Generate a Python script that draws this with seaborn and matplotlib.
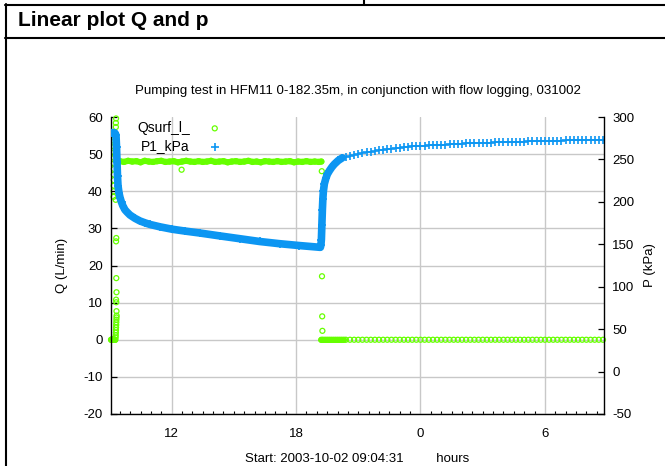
import matplotlib
matplotlib.use("Agg")
import matplotlib.pyplot as plt
from matplotlib.lines import Line2D
from matplotlib.ticker import FixedLocator, MultipleLocator
import seaborn as sns

# ---------------- data (time in hours of day, 24 = midnight) ----------------
# P1_kPa during pumping (dense logging)
p_time_pump = [9.077, 9.125, 9.173, 9.221, 9.269, 9.317, 9.341, 9.365, 9.389, 9.413,
               9.462, 9.510, 9.582, 9.654, 9.750, 9.846, 9.990, 10.231, 10.471, 10.712,
               10.952, 11.433, 12.010, 12.635, 13.356, 14.317, 15.279, 16.240, 17.202,
               18.163, 19.173]
p_kpa_pump = [281.6, 281.6, 281.6, 281.4, 281.0, 278.5, 265.0, 247.5, 230.0, 219.1,
              210.3, 205.1, 199.4, 195.0, 190.6, 188.0, 184.5, 180.6, 177.5, 175.3,
              173.4, 170.6, 167.8, 165.6, 163.3, 159.9, 156.6, 153.3, 150.7,
              148.5, 146.4]
# P1_kPa early recovery (dense logging)
p_time_rec = [19.197, 19.221, 19.245, 19.269, 19.293, 19.317, 19.365, 19.438, 19.510,
              19.606, 19.726, 19.846, 20.038, 20.231]
p_kpa_rec = [148.9, 155.6, 173.1, 190.6, 203.8, 212.5, 221.3, 227.8, 232.6,
             236.6, 240.9, 244.4, 248.8, 251.9]
# late recovery (sparser logging, shared by P1 and Q)
t_late = [20.4, 20.6, 20.8, 21.0, 21.2, 21.4, 21.6, 21.8, 22.0, 22.2, 22.4, 22.6, 22.8,
          23.0, 23.2, 23.4, 23.6, 23.8, 24.0, 24.2, 24.4, 24.6, 24.8, 25.0, 25.2, 25.4,
          25.6, 25.8, 26.0, 26.2, 26.4, 26.6, 26.8, 27.0, 27.2, 27.4, 27.6, 27.8, 28.0,
          28.2, 28.4, 28.6, 28.8, 29.0, 29.2, 29.4, 29.6, 29.8, 30.0, 30.2, 30.4, 30.6,
          30.8, 31.0, 31.2, 31.4, 31.6, 31.8, 32.0, 32.2, 32.4, 32.6, 32.8]
p_kpa_late = [253.1, 254.6, 255.8, 256.9, 257.8, 258.7, 259.3, 260.0, 260.6, 261.3,
              261.9, 262.5, 263.1, 263.7, 264.3, 264.9, 265.3, 265.7, 266.0, 266.3,
              266.5, 266.7, 266.9, 267.2, 267.5, 267.8, 268.1, 268.4, 268.6, 268.8,
              269.0, 269.2, 269.4, 269.6, 269.8, 269.9, 270.1, 270.3, 270.4, 270.5,
              270.6, 270.7, 270.8, 271.0, 271.2, 271.3, 271.5, 271.6, 271.8, 271.9,
              272.1, 272.2, 272.3, 272.4, 272.5, 272.6, 272.7, 272.8, 272.9, 273.0,
              273.1, 273.2, 273.3]
q_flow_late = [0.0, 0.0, 0.0, 0.0, 0.0, 0.0, 0.0, 0.0, 0.0, 0.0, 0.0, 0.0, 0.0,
               0.0, 0.0, 0.0, 0.0, 0.0, 0.0, 0.0, 0.0, 0.0, 0.0, 0.0, 0.0, 0.0,
               0.0, 0.0, 0.0, 0.0, 0.0, 0.0, 0.0, 0.0, 0.0, 0.0, 0.0, 0.0, 0.0,
               0.0, 0.0, 0.0, 0.0, 0.0, 0.0, 0.0, 0.0, 0.0, 0.0, 0.0, 0.0, 0.0,
               0.0, 0.0, 0.0, 0.0, 0.0, 0.0, 0.0, 0.0, 0.0, 0.0, 0.0]

# Qsurf_l_ at pump start (noisy readings)
q_time_start = [9.077, 9.090, 9.105, 9.120, 9.135, 9.150, 9.165, 9.180, 9.195, 9.210,
                9.225, 9.240, 9.255, 9.270, 9.285,
                9.300, 9.305, 9.310, 9.315, 9.320, 9.325, 9.330, 9.335, 9.340, 9.345,
                9.34, 9.33, 9.32, 9.34, 9.33, 9.32, 9.33, 9.30,
                9.200, 9.203, 9.206, 9.209, 9.212, 9.215, 9.218, 9.221, 9.224, 9.227,
                9.230, 9.233, 9.31, 9.31, 9.32]
q_flow_start = [0.0, 0.0, 0.0, 0.0, 0.0, 0.0, 0.0, 0.0, 0.0, 0.0,
                0.0, 0.0, 0.0, 0.0, 0.0,
                0.6, 1.2, 1.9, 2.6, 3.3, 4.0, 4.7, 5.4, 6.0, 6.5,
                7.7, 10.1, 10.8, 12.8, 16.6, 26.5, 27.4, 37.7,
                38.5, 40.0, 41.5, 43.0, 44.5, 46.0, 47.5, 49.0, 50.5, 52.0,
                53.5, 55.0, 57.3, 58.4, 59.6]
# Qsurf_l_ steady pumping
q_time_plateau = [9.38, 9.5, 9.7, 9.9, 10.1, 10.3, 10.5, 10.7, 10.9, 11.1, 11.3, 11.5,
                  11.7, 11.9, 12.1, 12.3, 12.5, 12.7, 12.9, 13.1, 13.3, 13.5, 13.7,
                  13.9, 14.1, 14.3, 14.5, 14.7, 14.9, 15.1, 15.3, 15.5, 15.7, 15.9,
                  16.1, 16.3, 16.5, 16.7, 16.9, 17.1, 17.3, 17.5, 17.7, 17.9, 18.1,
                  18.3, 18.5, 18.7, 18.9, 19.1, 19.22]
q_flow_plateau = [48.3, 48.1, 47.9, 48.2, 48.0, 48.1, 47.8, 48.2, 48.0, 47.9, 48.1, 48.2,
                  47.9, 48.0, 48.1, 47.8, 48.0, 48.2, 48.0, 47.9, 48.1, 47.9, 48.0,
                  48.2, 47.9, 48.0, 48.1, 47.8, 48.0, 48.1, 47.9, 48.0, 48.2, 47.9,
                  48.0, 47.8, 48.1, 48.0, 47.9, 48.1, 47.9, 48.0, 48.1, 47.8, 48.0,
                  47.9, 48.1, 47.9, 48.0, 47.9, 48.0]
# isolated readings (spike during pumping and the stop transient)
q_time_spike = [12.48, 19.24, 19.25, 19.26, 19.27]
q_flow_spike = [45.8, 45.4, 17.1, 6.3, 2.4]
# Qsurf_l_ just after stop (dense logging)
q_time_stop = [19.22, 19.3, 19.4, 19.5, 19.6, 19.7, 19.8, 19.9, 20.0, 20.1, 20.2, 20.3]
q_flow_stop = [0.0, 0.0, 0.0, 0.0, 0.0, 0.0, 0.0, 0.0, 0.0, 0.0, 0.0, 0.0]

x_ticks = [12, 18, 24, 30]
x_tick_labels = ["12", "18", "0", "6"]
q_ticks = [-20, -10, 0, 10, 20, 30, 40, 50, 60]
p_ticks = [-50, 0, 50, 100, 150, 200, 250, 300]

title = "Pumping test in HFM11 0-182.35m, in conjunction with flow logging, 031002"
header = "Linear plot Q and p"

# ---------------- styling ----------------
sns.set_theme(style="white")
plt.rcParams["font.family"] = ["Liberation Sans", "DejaVu Sans"]
plt.rcParams["axes.edgecolor"] = "black"
plt.rcParams["text.color"] = "black"
plt.rcParams["axes.labelcolor"] = "black"
plt.rcParams["xtick.color"] = "black"
plt.rcParams["ytick.color"] = "black"

GREEN = "#66ff00"
BLUE = "#0c96f2"
FS = 9.5

W, H = 665, 466
fig = plt.figure(figsize=(W / 100, H / 100), dpi=100)
fig.patch.set_facecolor("white")


def fx(x):
    return x / W


def fy(y):
    return 1 - y / H


ax = fig.add_axes([fx(111), fy(414), fx(604) - fx(111), fy(117) - fy(414)])
ax2 = ax.twinx()

# ---- Q (left axis) ----
sns.lineplot(x=q_time_plateau, y=q_flow_plateau, ax=ax, color=GREEN, lw=4.4,
             estimator=None, sort=False, legend=False)
sns.lineplot(x=q_time_stop, y=q_flow_stop, ax=ax, color=GREEN, lw=4.2,
             estimator=None, sort=False, legend=False)
q_t_all = q_time_start + q_time_plateau + q_time_spike + q_time_stop + t_late
q_v_all = q_flow_start + q_flow_plateau + q_flow_spike + q_flow_stop + q_flow_late
sns.scatterplot(x=q_t_all, y=q_v_all, ax=ax, marker="o", s=13, facecolor="none",
                edgecolor=GREEN, linewidth=0.9, label="Qsurf_l_", clip_on=False)

# ---- P (right axis) ----
sns.lineplot(x=p_time_pump + p_time_rec, y=p_kpa_pump + p_kpa_rec, ax=ax2, color=BLUE,
             lw=5.5, estimator=None, sort=False, legend=False)
p_t_all = p_time_pump + p_time_rec + t_late
p_v_all = p_kpa_pump + p_kpa_rec + p_kpa_late
sns.scatterplot(x=p_t_all, y=p_v_all, ax=ax2, marker="+", s=26, color=BLUE,
                linewidth=1.2, label="P1_kPa")

# ---- axes ----
ax.set_xlim(9.0753, 32.85)
ax.set_ylim(-20, 60)
ax2.set_ylim(-50, 300)
ax.xaxis.set_major_locator(FixedLocator(x_ticks))
ax.set_xticklabels(x_tick_labels)
ax.xaxis.set_minor_locator(MultipleLocator(0.5))
ax.set_yticks(q_ticks)
ax.set_yticklabels([str(v) for v in q_ticks])
ax2.set_yticks(p_ticks)
ax2.set_yticklabels([str(v) for v in p_ticks])

for a in (ax, ax2):
    a.spines["top"].set_visible(False)
    for s in a.spines.values():
        s.set_color("black")
        s.set_linewidth(1.0)
ax.spines["right"].set_visible(False)
ax2.spines["left"].set_visible(False)
ax2.spines["bottom"].set_visible(False)

ax.tick_params(axis="both", which="both", direction="in", top=False, right=False,
               labelsize=FS, colors="black")
ax.tick_params(axis="both", which="major", length=4.5, width=0.9)
ax.tick_params(axis="x", which="minor", length=2.5, width=0.8, bottom=True)
ax.tick_params(axis="y", which="minor", left=False)
ax.tick_params(axis="y", pad=6)
ax.tick_params(axis="x", pad=10)
ax2.tick_params(axis="y", which="both", direction="in", left=False, right=True,
                length=4, width=0.9, labelsize=FS, pad=6, colors="black")

ax.set_axisbelow(True)
ax.grid(True, which="major", axis="both", color="#c8c8c8", lw=1.0)
ax2.grid(False)
# no gridline along the open top edge
ax.yaxis.get_major_ticks()[-1].gridline.set_visible(False)

ax.set_facecolor("white")
ax2.patch.set_visible(False)

# labels
ax.set_ylabel("Q (L/min)", fontsize=FS)
ax.yaxis.set_label_coords((62 - 111) / 493, 0.5)
ax.yaxis.label.set_verticalalignment("center")
ax2.set_ylabel("P (kPa)", fontsize=FS)
ax2.yaxis.set_label_coords((650 - 111) / 493, 0.5)
ax2.yaxis.label.set_verticalalignment("center")
ax.set_xlabel("Start: 2003-10-02 09:04:31         hours", fontsize=FS)
ax.xaxis.set_label_coords(0.5, -(459 - 414) / 297)
ax.xaxis.label.set_verticalalignment("center")

ax.set_title(title, fontsize=FS, y=1 + (117 - 91) / 297, va="center", pad=0)

# legend (text first, symbol after)
for a in (ax, ax2):
    lg = a.get_legend()
    if lg is not None:
        lg.remove()
h1, l1 = ax.get_legend_handles_labels()
h2, l2 = ax2.get_legend_handles_labels()
ax2.legend(h1 + h2, l1 + l2, loc="upper left", bbox_to_anchor=(fx(137), fy(121)),
           bbox_transform=fig.transFigure, frameon=False, borderpad=0,
           borderaxespad=0, markerfirst=False, handlelength=1.0, handletextpad=1.3,
           labelspacing=0.3, fontsize=10, scatterpoints=1)

# page frame / header
lw_frame = 1.5
fig.add_artist(Line2D([fx(6), fx(6)], [fy(3.5), fy(466)], color="black", lw=lw_frame,
                      transform=fig.transFigure))
fig.add_artist(Line2D([fx(5), fx(665)], [fy(4.5), fy(4.5)], color="black", lw=lw_frame,
                      transform=fig.transFigure))
fig.add_artist(Line2D([fx(364), fx(364)], [fy(0), fy(4.5)], color="black", lw=lw_frame,
                      transform=fig.transFigure))
fig.add_artist(Line2D([fx(5), fx(665)], [fy(38), fy(38)], color="black", lw=lw_frame,
                      transform=fig.transFigure))
fig.text(fx(18), fy(21), header, fontsize=15, fontweight="bold", va="center", ha="left")

fig.savefig("out.png", dpi=100)
